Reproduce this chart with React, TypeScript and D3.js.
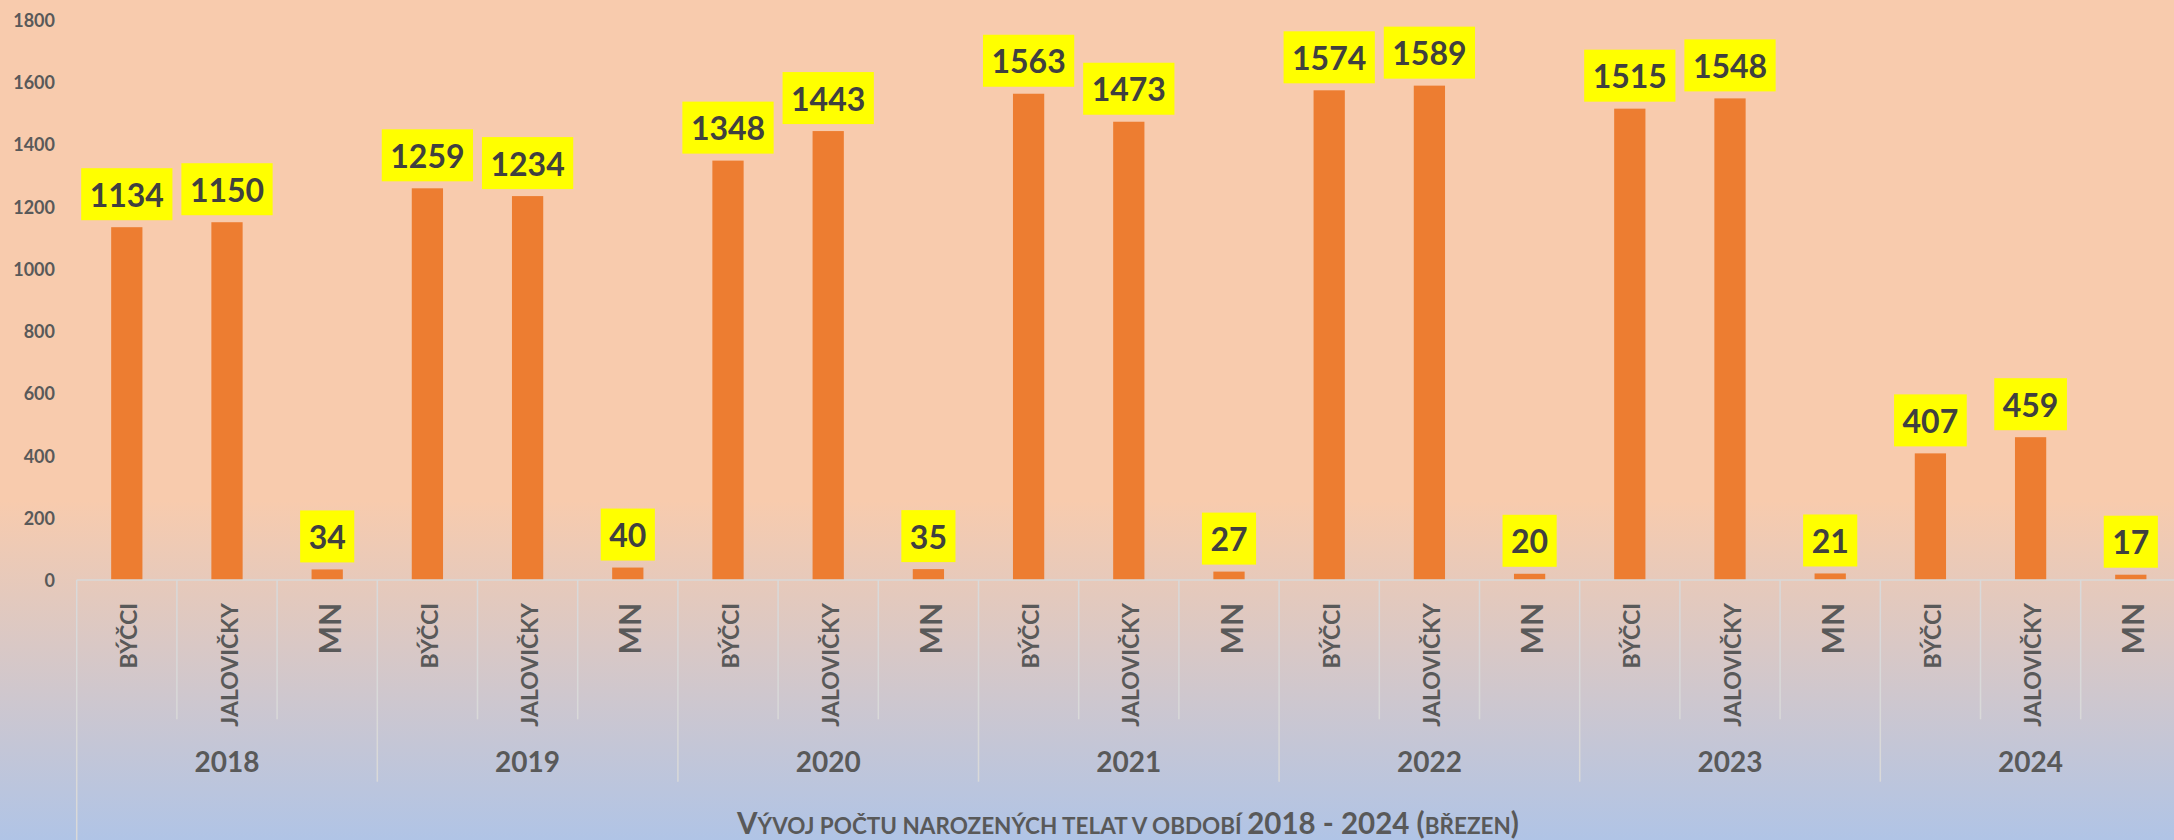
import React, { useEffect, useRef } from 'react';
import * as d3 from 'd3';

const years = ['2018', '2019', '2020', '2021', '2022', '2023', '2024'];
const categories = ['BÝČCI', 'JALOVIČKY', 'MN'];
const bycci = [1134, 1259, 1348, 1563, 1574, 1515, 407];
const jalovicky = [1150, 1234, 1443, 1473, 1589, 1548, 459];
const mn = [34, 40, 35, 27, 20, 21, 17];
const yTicks = [0, 200, 400, 600, 800, 1000, 1200, 1400, 1600, 1800];

const W = 2174;
const H = 840;
const FONT = 'Lato, "Open Sans", sans-serif';

export default function App() {
  const ref = useRef<SVGSVGElement>(null);

  useEffect(() => {
    document.body.style.margin = '0';
    const svg = d3.select(ref.current);
    svg.selectAll('*').remove();

    const rows = years.flatMap((yr, i) => [
      { year: yr, cat: categories[0], value: bycci[i] },
      { year: yr, cat: categories[1], value: jalovicky[i] },
      { year: yr, cat: categories[2], value: mn[i] },
    ]);
    const keys = rows.map((_, i) => String(i));

    const left = 76.7;
    const step = 100.2;
    const x = d3.scaleBand<string>().domain(keys).range([left, left + step * keys.length]).padding(0);
    const y = d3.scaleLinear().domain([0, 1800]).range([580, 20]);
    const barW = x.bandwidth() * 0.312;

    const defs = svg.append('defs');
    const grad = defs.append('linearGradient').attr('id', 'bg').attr('x1', 0).attr('y1', 0).attr('x2', 0).attr('y2', 1);
    grad.append('stop').attr('offset', '0').attr('stop-color', '#F8CBAD');
    grad.append('stop').attr('offset', String(500 / H)).attr('stop-color', '#F8CBAD');
    grad.append('stop').attr('offset', '1').attr('stop-color', '#B0C4E6');

    svg.append('rect').attr('width', W).attr('height', H).attr('fill', 'url(#bg)');

    // bars
    svg.append('g').selectAll('rect').data(rows).join('rect')
      .attr('x', (_, i) => x(String(i))! + x.bandwidth() / 2 - barW / 2)
      .attr('y', d => y(d.value))
      .attr('width', barW)
      .attr('height', d => y(0) - y(d.value))
      .attr('fill', '#ED7D31');

    // axis lines
    const axisG = svg.append('g').attr('stroke', '#D9D9D9').attr('stroke-width', 1.5);
    axisG.append('line').attr('x1', left).attr('x2', W).attr('y1', y(0)).attr('y2', y(0));
    for (let k = 0; k <= keys.length; k++) {
      const xx = left + step * k;
      const y2 = k === 0 ? H : k % 3 === 0 ? 781.7 : 719.3;
      axisG.append('line').attr('x1', xx).attr('x2', xx).attr('y1', y(0)).attr('y2', y2);
    }

    // y tick labels
    svg.append('g').selectAll('text').data(yTicks).join('text')
      .attr('x', 55).attr('y', d => y(d)).attr('text-anchor', 'end').attr('dominant-baseline', 'central')
      .attr('font-family', FONT).attr('font-weight', 700).attr('font-size', 18).attr('fill', '#595959')
      .text(d => String(d));

    // data labels
    const lg = svg.append('g');
    rows.forEach((d, i) => {
      const cx = x(String(i))! + x.bandwidth() / 2;
      const bottom = y(d.value) - 7;
      const boxH = 52;
      const g = lg.append('g');
      const rect = g.append('rect').attr('fill', '#FFFF00');
      const t = g.append('text')
        .attr('x', cx).attr('y', bottom - boxH / 2).attr('text-anchor', 'middle').attr('dominant-baseline', 'central')
        .attr('font-family', FONT).attr('font-weight', 700).attr('font-size', 32).attr('fill', '#404040')
        .text(String(d.value));
      const tw = (t.node() as SVGTextElement).getComputedTextLength();
      const bw = tw + 17;
      rect.attr('x', cx - bw / 2).attr('y', bottom - boxH).attr('width', bw).attr('height', boxH);
    });

    // category labels
    svg.append('g').selectAll('text').data(rows).join('text')
      .attr('transform', (_, i) => `translate(${x(String(i))! + x.bandwidth() / 2 + 1.5},603) rotate(-90)`)
      .attr('text-anchor', 'end').attr('dominant-baseline', 'central')
      .attr('font-family', FONT).attr('font-weight', 700)
      .attr('font-size', d => (d.cat === 'MN' ? 30 : 23))
      .attr('fill', '#595959')
      .text(d => d.cat);

    // year labels
    svg.append('g').selectAll('text').data(years).join('text')
      .attr('x', (_, i) => left + step * (3 * i + 1.5)).attr('y', 761)
      .attr('text-anchor', 'middle').attr('dominant-baseline', 'central')
      .attr('font-family', FONT).attr('font-weight', 700).attr('font-size', 28).attr('fill', '#595959')
      .text(d => d);

    // title
    const big = 29.5, small = 22.5;
    const parts: [string, number][] = [
      ['V', big], ['ÝVOJ POČTU NAROZENÝCH TELAT V OBDOBÍ ', small], ['2018 - 2024 (', big], ['BŘEZEN', small], [')', big],
    ];
    const title = svg.append('text').attr('x', 1128).attr('y', 834).attr('text-anchor', 'middle')
      .attr('font-family', FONT).attr('font-weight', 700).attr('fill', '#595959');
    parts.forEach(([s, fs]) => title.append('tspan').attr('font-size', fs).text(s));
  }, []);

  return <svg ref={ref} width={W} height={H} style={{ position: 'absolute', left: 0, top: 0, display: 'block' }} />;
}
